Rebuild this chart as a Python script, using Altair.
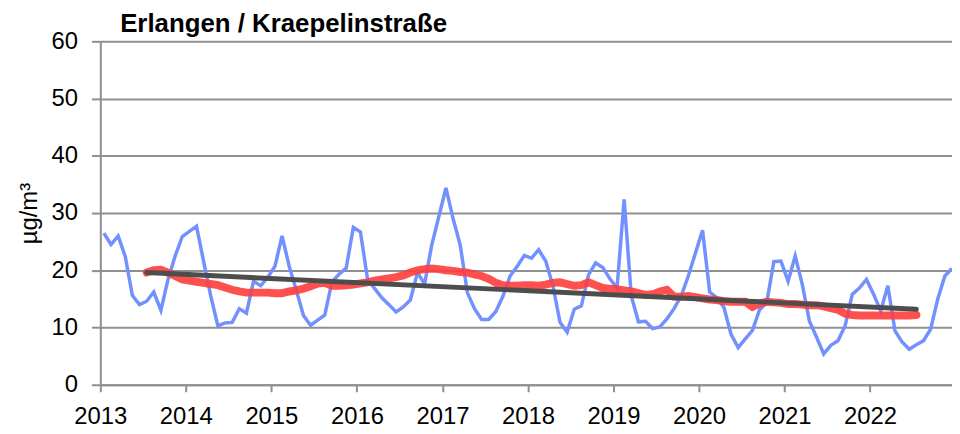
import altair as alt
import pandas as pd

# Monthly values (µg/m³), Jan 2013 .. Dec 2022
blue_values = [
    26.5, 24.5, 26.0, 22.4, 15.6, 14.0, 14.6, 16.2, 13.0, 18.4, 22.5, 25.9,   # 2013
    26.8, 27.7, 21.5, 15.5, 10.3, 10.8, 10.9, 13.3, 12.5, 18.1, 17.3, 18.8,   # 2014
    20.7, 26.0, 20.7, 16.5, 12.1, 10.4, 11.3, 12.2, 18.0, 19.3, 20.4, 27.5,   # 2015
    26.7, 18.4, 16.8, 15.2, 14.0, 12.7, 13.6, 14.8, 19.6, 17.6, 24.4, 29.4,   # 2016
    34.4, 29.0, 24.4, 16.1, 13.3, 11.4, 11.4, 12.8, 15.5, 19.0, 20.7, 22.6,   # 2017
    22.1, 23.6, 21.6, 17.3, 10.9, 9.2, 13.2, 13.8, 19.2, 21.3, 20.5, 18.5,    # 2018
    16.9, 32.4, 15.5, 11.0, 11.1, 9.8, 10.1, 11.5, 13.3, 15.5, 19.0, 23.0,    # 2019
    27.0, 16.2, 15.2, 13.5, 8.8, 6.5, 8.0, 9.5, 13.1, 14.3, 21.5, 21.6,       # 2020
    18.1, 22.5, 17.5, 11.1, 8.3, 5.4, 6.9, 7.7, 10.3, 15.8, 16.9, 18.4,       # 2021
    15.8, 12.9, 17.3, 9.4, 7.5, 6.2, 7.0, 7.7, 9.7, 15.0, 19.0, 20.3,         # 2022
]

# Smoothed series, Jul 2013 .. Jul 2022 (month index 6 .. 114)
red_start_index = 6
red_values = [
    19.6, 20.0, 20.1, 19.6, 19.0, 18.4,                                       # 2013 H2
    18.2, 18.0, 17.8, 17.6, 17.4, 17.0, 16.6, 16.3, 16.1, 16.1, 16.1, 16.1,   # 2014
    16.0, 16.0, 16.3, 16.5, 16.8, 17.2, 17.7, 17.8, 17.3, 17.3, 17.4, 17.5,   # 2015
    17.7, 17.9, 18.2, 18.4, 18.6, 18.8, 19.1, 19.6, 20.0, 20.2, 20.3, 20.2,   # 2016
    20.0, 19.9, 19.7, 19.6, 19.3, 19.0, 18.5, 17.8, 17.4, 17.3, 17.3, 17.4,   # 2017
    17.4, 17.3, 17.5, 17.8, 17.9, 17.6, 17.3, 17.4, 17.9, 17.4, 16.9, 16.8,   # 2018
    16.7, 16.5, 16.3, 16.0, 15.7, 15.8, 16.3, 16.6, 15.4, 15.4, 15.5, 15.3,   # 2019
    15.1, 14.9, 14.8, 14.6, 14.5, 14.5, 14.5, 13.6, 14.2, 14.5, 14.4, 14.3,   # 2020
    14.1, 14.1, 14.0, 13.9, 13.9, 13.7, 13.4, 13.1, 12.4, 12.2, 12.1, 12.1,   # 2021
    12.1, 12.1, 12.1, 12.1, 12.1, 12.1, 12.2,                                 # 2022 H1
]

# Linear trend: month index and value at its two ends
trend_index = [6, 114]
trend_values = [19.6, 13.2]

year_ticks = list(range(2013, 2023))
y_ticks = [0, 10, 20, 30, 40, 50, 60]


def pos(i):
    # mid-month position in decimal years
    return 2013 + (i + 0.5) / 12.0


blue_df = pd.DataFrame({"t": [pos(i) for i in range(len(blue_values))], "v": blue_values})
red_df = pd.DataFrame({"t": [pos(red_start_index + k) for k in range(len(red_values))], "v": red_values})
trend_df = pd.DataFrame({"t": [pos(i) for i in trend_index], "v": trend_values})

FONT = "Liberation Sans"
GRID = "#8f8f8f"

x_enc = alt.X(
    "t:Q",
    scale=alt.Scale(domain=[2013, pos(119)], nice=False, zero=False),
    axis=alt.Axis(
        values=year_ticks, format="d", grid=False, title=None,
        tickSize=7, tickWidth=2, tickColor=GRID,
        domainColor=GRID, domainWidth=2,
        labelFont=FONT, labelFontSize=24, labelColor="#000000",
        labelPadding=13, labelFlush=False, labelOverlap=False,
    ),
)
y_enc = alt.Y(
    "v:Q",
    scale=alt.Scale(domain=[0, 60], nice=False),
    axis=alt.Axis(
        values=y_ticks, grid=True, gridColor=GRID, gridWidth=2,
        tickSize=9, tickWidth=2, tickColor=GRID,
        domainColor=GRID, domainWidth=2,
        labelFont=FONT, labelFontSize=24, labelColor="#000000", labelPadding=14,
        title="µg/m³", titleFont=FONT, titleFontSize=24, titleFontWeight="normal",
        titleColor="#000000", titlePadding=10,
    ),
)

blue = alt.Chart(blue_df).mark_line(color="#7390ff", strokeWidth=3.5).encode(x=x_enc, y=y_enc)
red = alt.Chart(red_df).mark_line(color="#ff3d3d", strokeWidth=8, opacity=0.9, strokeCap="round").encode(x="t:Q", y="v:Q")
trend = alt.Chart(trend_df).mark_line(color="#4d4d4d", strokeWidth=5, strokeCap="round").encode(x="t:Q", y="v:Q")

chart = alt.layer(blue, red, trend).properties(
    width=858,
    height=346,
    title=alt.TitleParams(
        text="Erlangen / Kraepelinstraße", anchor="start", frame="group", dx=20, dy=14,
        font=FONT, fontSize=26, fontWeight="bold", color="#000000", offset=6,
    ),
    autosize=alt.AutoSizeParams(type="none"),
    padding={"left": 93, "top": 32, "right": 0, "bottom": 44},
).configure_view(stroke=None)

chart.save("out.html", embed_options={"renderer": "svg", "actions": False})
